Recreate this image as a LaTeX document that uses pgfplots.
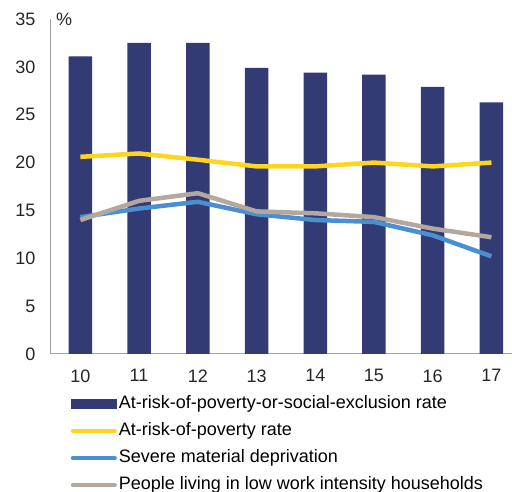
\documentclass[border=0pt]{standalone}
\usepackage{fontspec}
\setmainfont{Liberation Sans}
\usepackage{pgfplots}
\pgfplotsset{compat=1.18}
\definecolor{navy}{HTML}{333B74}
\definecolor{gold}{HTML}{FFD520}
\definecolor{skyblue}{HTML}{4A90D0}
\definecolor{taupe}{HTML}{B3A8A0}
\definecolor{axisgrey}{HTML}{A0A0A0}
\begin{document}
\begin{tikzpicture}
\begin{axis}[
  scale only axis,
  width=461pt, height=335pt,
  xmin=-0.5, xmax=7.35,
  ymin=0, ymax=35,
  axis x line*=bottom, axis y line*=left,
  axis line style={axisgrey, line width=1pt},
  xtick={0,...,7},
  xticklabels={10,11,12,13,14,15,16,17},
  ytick={0,5,...,35},
  major tick length=0pt,
  tick label style={font=\fontsize{18}{20}\selectfont, text=black!85},
  /pgf/number format/assume math mode=true,
  xticklabel style={yshift=-12pt},
  yticklabel style={xshift=-12pt},
  legend style={at={(0.043,-0.118)}, anchor=north west, draw=none, fill=none,
    inner sep=0pt, outer sep=0pt,
    font=\fontsize{18}{20}\selectfont, row sep=6pt,
    nodes={inner sep=2pt, text height=13pt, text depth=4pt}},
  legend cell align=left,
  clip=false,
]
\addplot[ybar, bar width=23.5pt, fill=navy, draw=none,
  legend image code/.code={\fill[navy] (0pt,-5pt) rectangle (46pt,5pt);}]
  coordinates {(0,31.1) (1,32.5) (2,32.5) (3,29.9) (4,29.4) (5,29.2) (6,27.9) (7,26.3)};
\addlegendentry{At-risk-of-poverty-or-social-exclusion rate}
\addplot[gold, line width=4.5pt, line join=round,
  legend image code/.code={\draw[gold, line width=4pt, line cap=round] (2pt,0pt) -- (44pt,0pt);}]
  coordinates {(0,20.6) (1,20.95) (2,20.3) (3,19.6) (4,19.6) (5,20.0) (6,19.6) (7,20.0)};
\addlegendentry{At-risk-of-poverty rate}
\addplot[skyblue, line width=4.5pt, line join=round,
  legend image code/.code={\draw[skyblue, line width=4pt, line cap=round] (2pt,0pt) -- (44pt,0pt);}]
  coordinates {(0,14.3) (1,15.2) (2,15.9) (3,14.6) (4,14.0) (5,13.8) (6,12.4) (7,10.2)};
\addlegendentry{Severe material deprivation}
\addplot[taupe, line width=4.5pt, line join=round,
  legend image code/.code={\draw[taupe, line width=4pt, line cap=round] (2pt,0pt) -- (44pt,0pt);}]
  coordinates {(0,14.0) (1,16.0) (2,16.8) (3,14.9) (4,14.7) (5,14.3) (6,13.1) (7,12.2)};
\addlegendentry{People living in low work intensity households}
\node[anchor=west, font=\fontsize{18}{20}\selectfont, text=black!85, inner sep=0pt] at ([xshift=5pt]rel axis cs:0,1) {\%};
\end{axis}
\pgfresetboundingbox
\path ([xshift=-51pt,yshift=-138pt]current axis.south west) rectangle ([yshift=19pt]current axis.north east);
\end{tikzpicture}
\end{document}
